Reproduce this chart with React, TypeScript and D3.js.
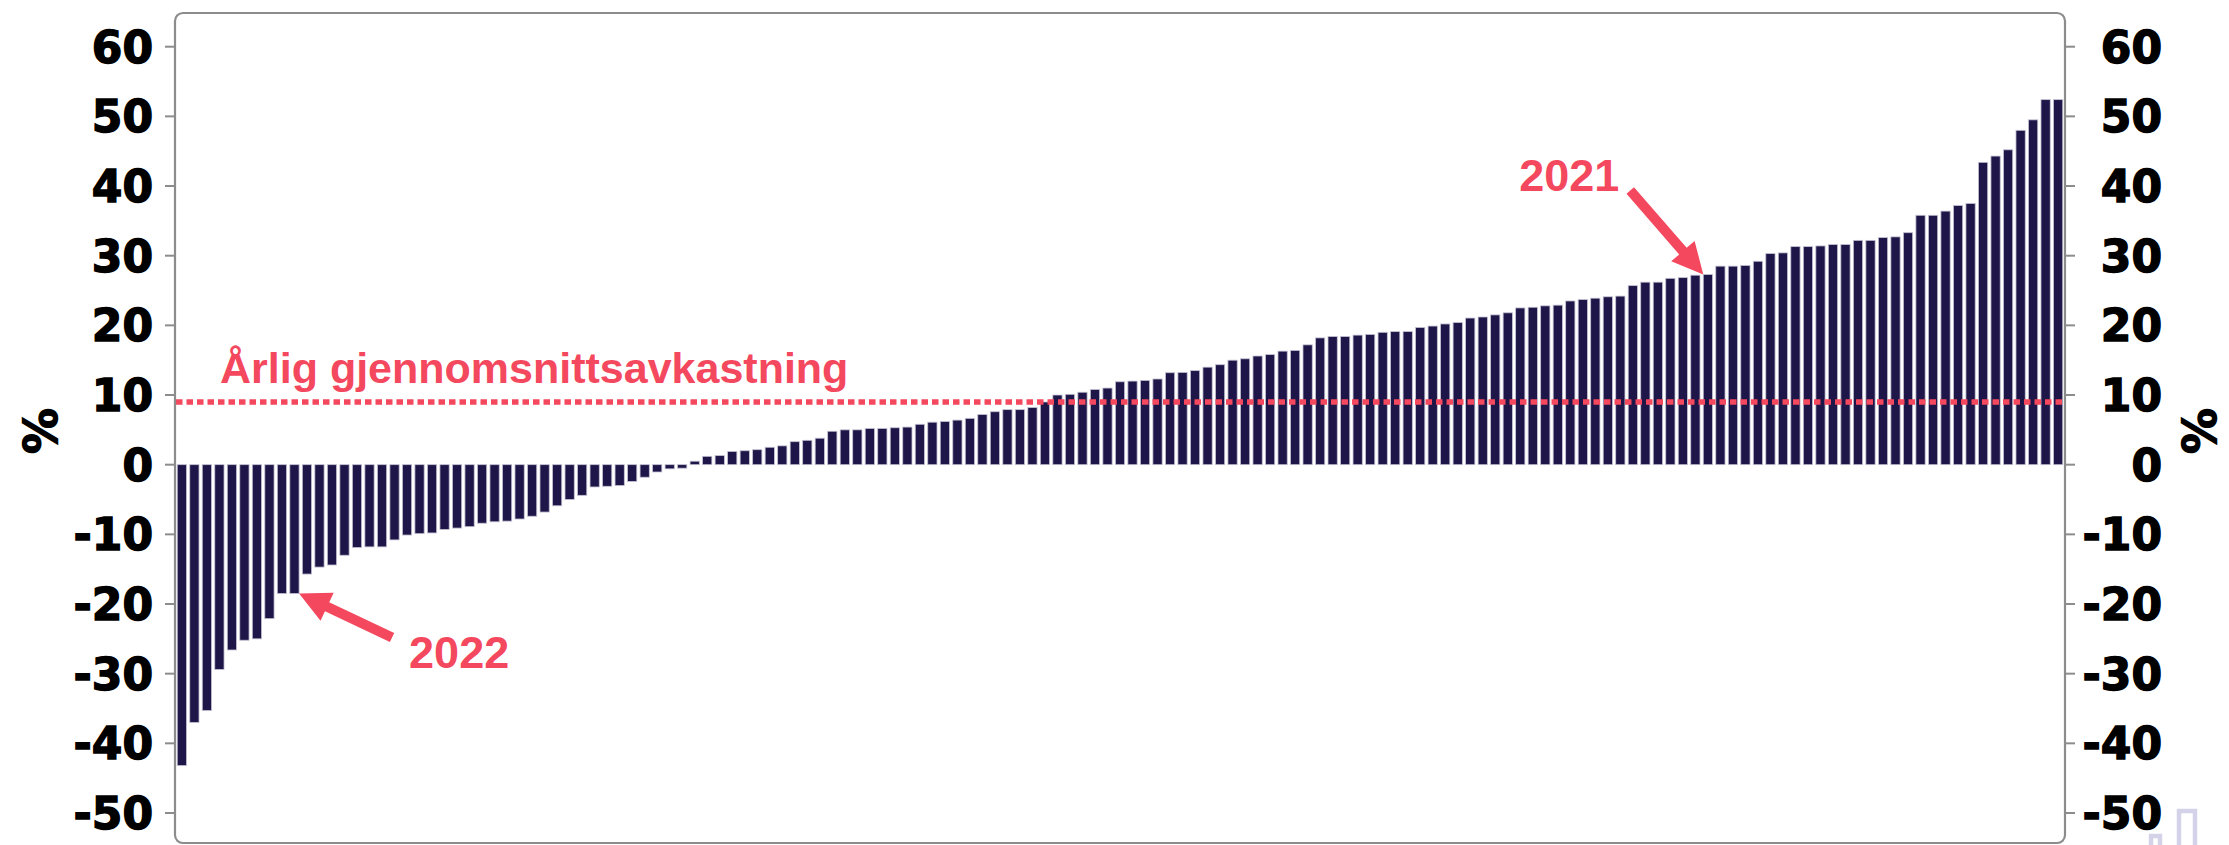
import * as React from "react";
import * as d3 from "d3";

// annual returns, sorted ascending (%)
const returns: number[] = [
    -43.2, -37.0, -35.3, -29.4, -26.6, -25.2, -25.0, -22.1, -18.5, -18.5,
    -15.7, -14.7, -14.4, -13.0, -11.9, -11.8, -11.8, -10.8, -10.1, -9.9,
    -9.8, -9.3, -9.1, -8.9, -8.4, -8.2, -8.1, -7.8, -7.4, -6.8,
    -5.9, -5.0, -4.4, -3.2, -3.1, -3.0, -2.4, -1.8, -1.05, -0.6,
    -0.5, 0.5, 1.2, 1.3, 1.9, 2.0, 2.15, 2.5, 2.7, 3.3,
    3.5, 3.8, 4.8, 5.0, 5.0, 5.2, 5.2, 5.3, 5.4, 5.8,
    6.1, 6.2, 6.4, 6.65, 7.2, 7.6, 7.9, 7.9, 8.2, 9.0,
    10.0, 10.1, 10.4, 10.8, 11.0, 11.9, 12.0, 12.1, 12.3, 13.2,
    13.25, 13.5, 14.0, 14.35, 15.0, 15.2, 15.6, 15.8, 16.3, 16.4,
    17.2, 18.2, 18.4, 18.4, 18.6, 18.7, 19.0, 19.1, 19.1, 19.7,
    19.9, 20.2, 20.4, 21.05, 21.2, 21.5, 21.8, 22.5, 22.6, 22.8,
    22.9, 23.5, 23.7, 23.9, 24.1, 24.2, 25.7, 26.2, 26.2, 26.75,
    26.85, 27.2, 27.3, 28.5, 28.5, 28.6, 29.2, 30.3, 30.4, 31.3,
    31.3, 31.4, 31.6, 31.6, 32.2, 32.2, 32.6, 32.7, 33.3, 35.8,
    35.8, 36.4, 37.2, 37.5, 43.4, 44.3, 45.2, 48.0, 49.5, 52.4,
    52.4
];

const avgReturn = 9.0;
const avgLabel = "Årlig gjennomsnittsavkastning";
const yTicks = [60, 50, 40, 30, 20, 10, 0, -10, -20, -30, -40, -50];
const yLabel = "%";

// which bar each year label points at
const highlightYears = ["2022", "2021"];
const highlightIndex = [9, 122];

const RED = "#f4485e";
const NAVY = "#1e1548";
const FRAME = "#8c8c8c";

function arrowPath(x1: number, y1: number, x2: number, y2: number) {
    const shaft = 10, headLen = 31, headW = 31;
    const dx = x2 - x1, dy = y2 - y1;
    const L = Math.hypot(dx, dy);
    const ux = dx / L, uy = dy / L;
    const nx = -uy, ny = ux;
    const bx = x2 - ux * headLen, by = y2 - uy * headLen;
    const p = [
        [x1 + nx * shaft / 2, y1 + ny * shaft / 2],
        [bx + nx * shaft / 2, by + ny * shaft / 2],
        [bx + nx * headW / 2, by + ny * headW / 2],
        [x2, y2],
        [bx - nx * headW / 2, by - ny * headW / 2],
        [bx - nx * shaft / 2, by - ny * shaft / 2],
        [x1 - nx * shaft / 2, y1 - ny * shaft / 2]
    ];
    return "M" + p.map(d => d[0].toFixed(1) + "," + d[1].toFixed(1)).join("L") + "Z";
}

export default function App() {
    const width = 2229, height = 845;
    const left = 175, right = 2065, top = 13, bottom = 843;

    let x = d3.scaleBand<number>()
        .domain(d3.range(returns.length))
        .range([left + 1, right - 1])
        .paddingInner(0.26)
        .paddingOuter(0.1);

    let y = d3.scaleLinear().domain([-50, 60]).range([813, 46.7]);

    // heavy digits like the original, DejaVu bold with a thin outline
    const tickFont = {
        fontFamily: "'DejaVu Sans', Verdana, sans-serif",
        fontWeight: 700,
        fontSize: 44,
        fill: "#000",
        stroke: "#000",
        strokeWidth: 1.4
    };

    const labelFont = {
        fontFamily: "'Liberation Sans', Arial, sans-serif",
        fontWeight: 700,
        fill: RED
    };

    // 2022: tip at the bottom-right corner of its bar, 2021: top-left corner
    const tip2022 = [x(highlightIndex[0])! + x.bandwidth(), y(returns[highlightIndex[0]])];
    const tip2021 = [x(highlightIndex[1])!, y(returns[highlightIndex[1]])];

    return (
        <svg width={width} height={height} style={{ position: "absolute", left: 0, top: 0, display: "block", background: "#fff" }}>
            {/* bars */}
            <g>
                {returns.map((v, i) => (
                    <rect key={i}
                        x={x(i)}
                        width={x.bandwidth()}
                        y={Math.min(y(v), y(0))}
                        height={Math.abs(y(v) - y(0))}
                        fill={NAVY}
                        stroke="#c4c2d2"
                        strokeWidth={0.8} />
                ))}
            </g>

            {/* average line */}
            <line x1={left + 1} x2={right - 2} y1={y(avgReturn)} y2={y(avgReturn)}
                stroke={RED} strokeWidth={5.5} strokeDasharray="6.5,4" />
            <text x={220} y={y(avgReturn) - 19} fontSize={43} {...labelFont}>{avgLabel}</text>

            {/* annotations */}
            <path d={arrowPath(tip2022[0] + 93, tip2022[1] + 44, tip2022[0], tip2022[1])} fill={RED} />
            <text x={tip2022[0] + 110} y={tip2022[1] + 74} fontSize={45} {...labelFont}>{highlightYears[0]}</text>

            <path d={arrowPath(tip2021[0] - 73, tip2021[1] - 84, tip2021[0], tip2021[1])} fill={RED} />
            <text x={tip2021[0] - 84} y={tip2021[1] - 84} fontSize={45} textAnchor="end" {...labelFont}>{highlightYears[1]}</text>

            {/* frame */}
            <rect x={left} y={top} width={right - left} height={bottom - top} rx={8} ry={8}
                fill="none" stroke={FRAME} strokeWidth={2.2} />

            {/* left axis */}
            <g>
                {yTicks.map(t => (
                    <g key={t}>
                        <line x1={left - 10} x2={left} y1={y(t)} y2={y(t)} stroke={FRAME} strokeWidth={2} />
                        <text x={153} y={y(t)} dy="0.36em" textAnchor="end" {...tickFont}>{t}</text>
                    </g>
                ))}
                <text transform={`translate(40, ${y(5) + 1}) rotate(-90)`} textAnchor="middle" dy="0.36em" {...tickFont} fontSize={46}>{yLabel}</text>
            </g>

            {/* right axis */}
            <g>
                {yTicks.map(t => (
                    <g key={t}>
                        <line x1={right} x2={right + 10} y1={y(t)} y2={y(t)} stroke={FRAME} strokeWidth={2} />
                        <text x={2162} y={y(t)} dy="0.36em" textAnchor="end" {...tickFont}>{t}</text>
                    </g>
                ))}
                <text transform={`translate(2199, ${y(5) + 1}) rotate(-90)`} textAnchor="middle" dy="0.36em" {...tickFont} fontSize={46}>{yLabel}</text>
            </g>

            {/* faint logo fragment bottom right */}
            <g fill="none" stroke="#d3d2e8" strokeWidth={4.5}>
                <path d="M2151,848 V836 H2160 V848" />
                <path d="M2179,848 V811 H2195 V848" />
            </g>
        </svg>
    );
}
